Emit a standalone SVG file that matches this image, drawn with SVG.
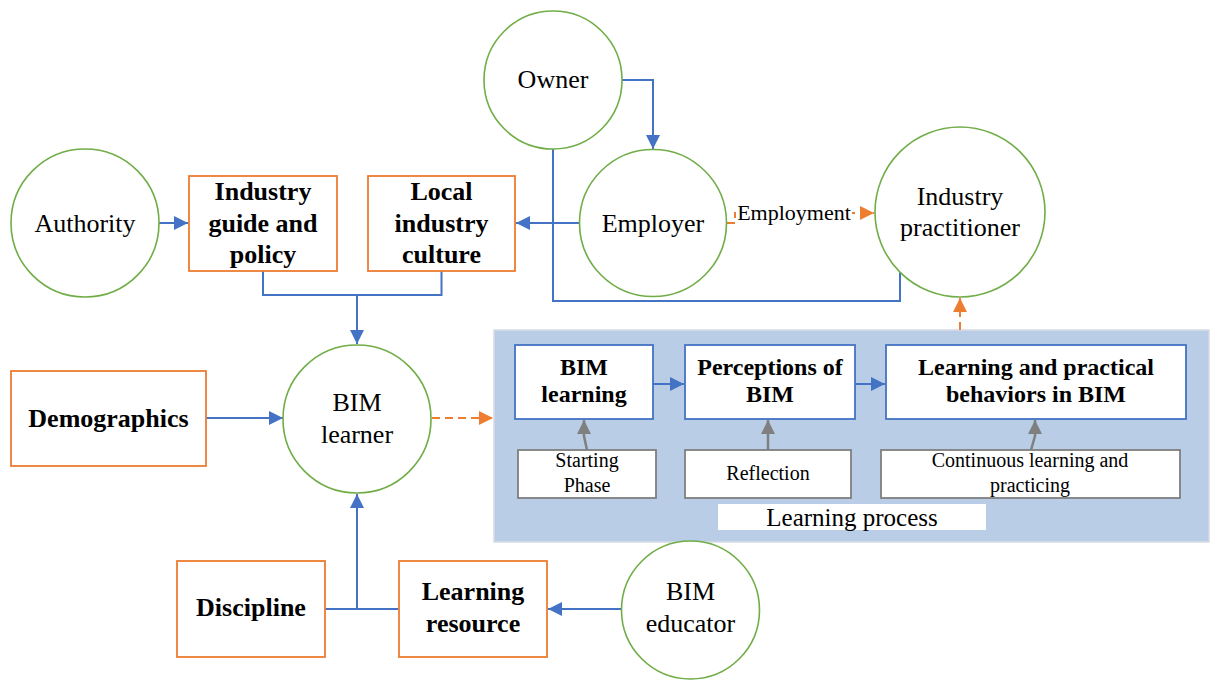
<svg xmlns="http://www.w3.org/2000/svg" width="1211" height="680" viewBox="0 0 1211 680">
<style>
.c{fill:#fff;stroke:#70AD47;stroke-width:1.6}
.o{fill:#fff;stroke:#ED7D31;stroke-width:1.8}
.b{fill:#fff;stroke:#4472C4;stroke-width:1.8}
.g{fill:#fff;stroke:#7F7F7F;stroke-width:1.8}
.t{font-family:"Liberation Serif","Times New Roman",serif;font-size:26px;fill:#000;text-anchor:middle}
.tb{font-family:"Liberation Serif","Times New Roman",serif;font-size:26px;font-weight:bold;fill:#000;text-anchor:middle}
.ti{font-family:"Liberation Serif","Times New Roman",serif;font-size:24px;font-weight:bold;fill:#000;text-anchor:middle}
.ts{font-family:"Liberation Serif","Times New Roman",serif;font-size:20px;fill:#000;text-anchor:middle}
.lb{fill:none;stroke:#4472C4;stroke-width:2}
.lo{fill:none;stroke:#ED7D31;stroke-width:2;stroke-dasharray:8,5}
.lg{fill:none;stroke:#7F7F7F;stroke-width:2.5}
</style>
<defs>
<marker id="ab" markerUnits="userSpaceOnUse" markerWidth="15" markerHeight="15" refX="14" refY="7" orient="auto"><path d="M0,0 L14,7 L0,14 z" fill="#4472C4"/></marker>
<marker id="ao" markerUnits="userSpaceOnUse" markerWidth="15" markerHeight="15" refX="14" refY="7" orient="auto"><path d="M0,0 L14,7 L0,14 z" fill="#ED7D31"/></marker>
<marker id="ag" markerUnits="userSpaceOnUse" markerWidth="15" markerHeight="15" refX="14" refY="7" orient="auto"><path d="M0,0 L14,7 L0,14 z" fill="#7F7F7F"/></marker>
</defs>

<g id="learning-process-area">
<rect x="494" y="330" width="715" height="212" fill="#B9CDE6" stroke="#D6DCE4" stroke-width="1.5"/>
</g>

<g id="connectors">
<path class="lb" d="M622,80 H653 V149" marker-end="url(#ab)"/>
<path class="lb" d="M580,223 H516" marker-end="url(#ab)"/>
<path class="lb" d="M553,149 V301 H900 V272"/>
<path class="lb" d="M158,223 H188" marker-end="url(#ab)"/>
<path class="lb" d="M263,271 V295 H441.5 V271"/>
<path class="lb" d="M357,295 V344" marker-end="url(#ab)"/>
<path class="lb" d="M206,418 H283" marker-end="url(#ab)"/>
<path class="lo" d="M432,418 H493" marker-end="url(#ao)"/>
<path class="lo" d="M960,330 V298" marker-end="url(#ao)"/>
<path class="lo" d="M727,223 H735 V213 H874" marker-end="url(#ao)"/>
<path class="lb" d="M653,384 H684" marker-end="url(#ab)"/>
<path class="lb" d="M855,384 H885" marker-end="url(#ab)"/>
<path class="lg" d="M587,450 L584,436 V420" marker-end="url(#ag)"/>
<path class="lg" d="M768,450 V420" marker-end="url(#ag)"/>
<path class="lg" d="M1031,450 L1035,436 V420" marker-end="url(#ag)"/>
<path class="lb" d="M325,609 H399"/>
<path class="lb" d="M357,609 V494" marker-end="url(#ab)"/>
<path class="lb" d="M622,609 H548" marker-end="url(#ab)"/>
<rect x="736" y="200" width="116" height="26" fill="#fff"/>
<text class="ts" x="794" y="220" style="font-size:22px">Employment</text>
</g>

<g id="owner"><circle class="c" cx="553" cy="80" r="69"/><text class="t" x="553" y="88">Owner</text></g>
<g id="employer"><circle class="c" cx="653" cy="223" r="73.5"/><text class="t" x="653" y="232">Employer</text></g>
<g id="industry-practitioner"><circle class="c" cx="960" cy="212" r="85"/><text class="t" x="960" y="205">Industry</text><text class="t" x="960" y="236">practitioner</text></g>
<g id="authority"><circle class="c" cx="85" cy="223" r="74"/><text class="t" x="85" y="232">Authority</text></g>
<g id="industry-guide"><rect class="o" x="189" y="176" width="148" height="95"/><text class="tb" x="263" y="200">Industry</text><text class="tb" x="263" y="232">guide and</text><text class="tb" x="263" y="263">policy</text></g>
<g id="local-culture"><rect class="o" x="368" y="176" width="147" height="95"/><text class="tb" x="441.5" y="200">Local</text><text class="tb" x="441.5" y="232">industry</text><text class="tb" x="441.5" y="263">culture</text></g>
<g id="demographics"><rect class="o" x="11" y="371" width="195" height="95"/><text class="tb" x="108.5" y="427">Demographics</text></g>
<g id="bim-learner"><circle class="c" cx="357" cy="419" r="74"/><text class="t" x="357" y="411">BIM</text><text class="t" x="357" y="443">learner</text></g>
<g id="bim-learning"><rect class="b" x="515" y="345" width="138" height="74"/><text class="ti" x="584" y="375">BIM</text><text class="ti" x="584" y="402">learning</text></g>
<g id="perceptions"><rect class="b" x="685" y="345" width="170" height="74"/><text class="ti" x="770" y="375">Perceptions of</text><text class="ti" x="770" y="402">BIM</text></g>
<g id="behaviors"><rect class="b" x="886" y="345" width="300" height="74"/><text class="ti" x="1036" y="375">Learning and practical</text><text class="ti" x="1036" y="402">behaviors in BIM</text></g>
<g id="starting-phase"><rect class="g" x="518" y="450" width="138" height="48"/><text class="ts" x="587" y="467">Starting</text><text class="ts" x="587" y="492">Phase</text></g>
<g id="reflection"><rect class="g" x="685" y="450" width="166" height="48"/><text class="ts" x="768" y="480">Reflection</text></g>
<g id="continuous"><rect class="g" x="881" y="450" width="299" height="48"/><text class="ts" x="1030" y="467">Continuous learning and</text><text class="ts" x="1030" y="492">practicing</text></g>
<g id="learning-process-label"><rect x="718" y="504" width="268" height="26" fill="#fff"/><text class="t" x="852" y="526" style="font-size:25px">Learning process</text></g>
<g id="discipline"><rect class="o" x="177" y="561" width="148" height="96"/><text class="tb" x="251" y="616">Discipline</text></g>
<g id="learning-resource"><rect class="o" x="399" y="561" width="148" height="96"/><text class="tb" x="473" y="600">Learning</text><text class="tb" x="473" y="632">resource</text></g>
<g id="bim-educator"><circle class="c" cx="690.5" cy="610" r="69"/><text class="t" x="690.5" y="600">BIM</text><text class="t" x="690.5" y="632">educator</text></g>
</svg>
